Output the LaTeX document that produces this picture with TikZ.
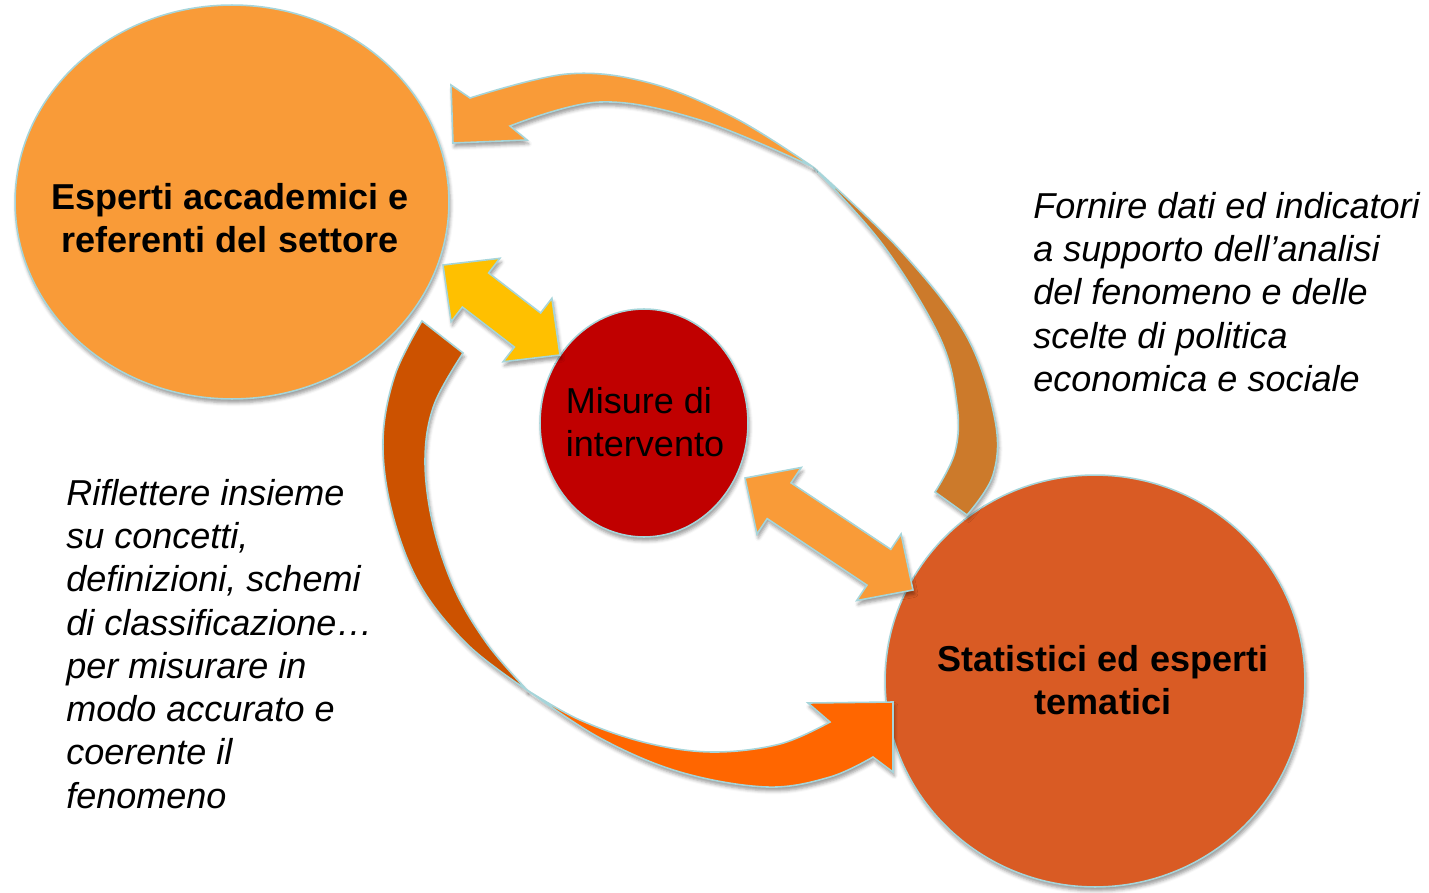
\documentclass[tikz,border=0pt]{standalone}
\usepackage{fontspec}
\setmainfont{Liberation Sans}
\usetikzlibrary{shapes.geometric,calc,shadows.blur}

\definecolor{circorange}{RGB}{249,155,56}
\definecolor{circrust}{RGB}{217,91,36}
\definecolor{circred}{RGB}{192,0,0}
\definecolor{arryellow}{RGB}{255,192,0}
\definecolor{bandtan}{RGB}{204,122,43}
\definecolor{banddark}{RGB}{204,82,0}
\definecolor{bandbright}{RGB}{255,102,0}
\definecolor{edgeblue}{RGB}{166,213,218}

% block arrow with a head at both tips #2 and #3
\newcommand{\fatarrow}[3]{%
  \filldraw[#1] (#2)
    -- ($(#2)!0.82cm!(#3)!0.8cm!90:(#3)$)
    -- ($(#2)!0.82cm!(#3)!0.43cm!90:(#3)$)
    -- ($(#3)!0.82cm!(#2)!0.43cm!-90:(#2)$)
    -- ($(#3)!0.82cm!(#2)!0.8cm!-90:(#2)$)
    -- (#3)
    -- ($(#3)!0.82cm!(#2)!0.8cm!90:(#2)$)
    -- ($(#3)!0.82cm!(#2)!0.43cm!90:(#2)$)
    -- ($(#2)!0.82cm!(#3)!0.43cm!-90:(#3)$)
    -- ($(#2)!0.82cm!(#3)!0.8cm!-90:(#3)$)
    -- cycle;}

\begin{document}
\begin{tikzpicture}[x=0.02cm, y=-0.02cm, line join=miter]

		% Styles
		\tikzstyle{soft} = [blur shadow={shadow xshift=0.8pt, shadow yshift=-2.2pt, shadow blur radius=2pt, shadow opacity=40}]
		\tikzstyle{bubble} = [ellipse, draw=edgeblue, line width=0.9pt, inner sep=0pt, soft]
		\tikzstyle{band} = [draw=edgeblue, line width=0.9pt, soft]
		\tikzstyle{heavy} = [font=\fontsize{20.5}{24.2}\selectfont\bfseries, align=center, inner sep=0pt]
		\tikzstyle{note} = [font=\fontsize{20.5}{24.6}\selectfont\itshape, align=left, anchor=north west, inner sep=0pt]

		\useasboundingbox (0,0) rectangle (1429,892);

		% Circles
		\node[bubble, fill=circorange, minimum width=8.68cm, minimum height=7.88cm] (esperti) at (232,202) {};
		\node[bubble, fill=circrust, minimum width=8.4cm, minimum height=8.24cm] (statistici) at (1095,681) {};
		\node[bubble, fill=circred, minimum width=4.16cm, minimum height=4.56cm] (misure) at (644,423) {};

		% Upper curved arrow (back and front of the band)
		\filldraw[band, fill=bandtan] plot[smooth, tension=0.6] coordinates {(813,167) (900,250) (966,335) (995,420) (993,475) (967,515)}
			-- (935,492)
			-- plot[smooth, tension=0.6] coordinates {(935,492) (955,452) (957,405) (940,338) (883,245) (813,167)} -- cycle;
		\filldraw[band, fill=circorange] plot[smooth, tension=0.6] coordinates {(813,167) (735,118) (650,83) (567,74) (470,98)}
			-- (451,85) -- (453,143) -- (527,140) -- (510,126)
			-- plot[smooth, tension=0.6] coordinates {(510,126) (600,102) (700,120) (813,167)} -- cycle;

		% Lower curved arrow
		\filldraw[band, fill=banddark] plot[smooth, tension=0.6] coordinates {(422,321) (395,375) (383,440) (392,512) (420,585) (468,645) (527,690)}
			-- plot[smooth, tension=0.6] coordinates {(527,690) (488,645) (455,590) (433,525) (425,460) (434,405) (463,353)} -- cycle;
		\filldraw[band, fill=bandbright] plot[smooth, tension=0.6] coordinates {(527,690) (600,738) (680,772) (767,787) (830,777) (873,757)}
			-- (893,772) -- (893,702) -- (808,703) -- (830,722)
			-- plot[smooth, tension=0.6] coordinates {(830,722) (780,744) (713,752) (647,743) (580,720) (527,690)} -- cycle;

		% Double arrows to the centre
		\coordinate (ya) at (443,265);
		\coordinate (yb) at (560,355);
		\coordinate (oa) at (745,478);
		\coordinate (ob) at (913,590);
		\fatarrow{band, fill=arryellow}{ya}{yb}
		\fatarrow{band, fill=circorange}{oa}{ob}

		% Texts
		\node[heavy] (esperti-txt) at ($(esperti)+(-2,16)$) {Esperti accademici e\\referenti del settore};
		\node[heavy] (statistici-txt) at ($(statistici)+(8,-1)$) {Statistici ed esperti\\tematici};
		\node[heavy, font=\fontsize{20.5}{24.6}\selectfont, align=left] (misure-txt) at ($(misure)+(1,-1)$) {Misure di\\intervento};

		\node[note] (fornire) at (1033,192) {Fornire dati ed indicatori\\a supporto dell’analisi\\del fenomeno e delle\\scelte di politica\\economica e sociale};
		\node[note] (riflettere) at (66,479) {Riflettere insieme\\su concetti,\\definizioni, schemi\\di classificazione…\\per misurare in\\modo accurato e\\coerente il\\fenomeno};

	\end{tikzpicture}
\end{document}
